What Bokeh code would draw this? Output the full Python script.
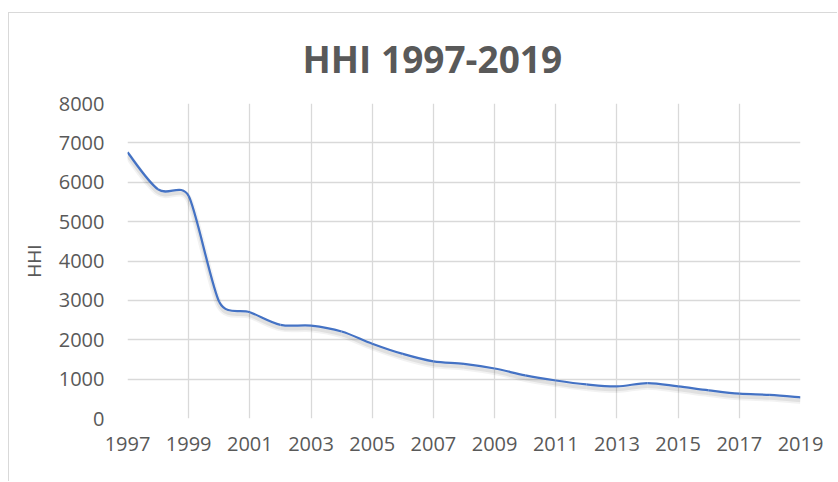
import math
from bokeh.plotting import figure
from bokeh.models import FixedTicker, Range1d
from bokeh.embed import file_html
from bokeh.resources import INLINE

years = list(range(1997, 2020))
hhi = [6760, 5820, 5650, 2960, 2700, 2380, 2360, 2210, 1900, 1640, 1450,
       1390, 1270, 1095, 965, 865, 815, 900, 815, 715, 630, 600, 535]
x_ticks = [1997, 1999, 2001, 2003, 2005, 2007, 2009, 2011, 2013, 2015, 2017, 2019]
y_ticks = [0, 1000, 2000, 3000, 4000, 5000, 6000, 7000, 8000]
title_text = "HHI 1997-2019"
y_label = "HHI"

TXT = "#595959"
GRID = "#d9d9d9"
FONT = "Open Sans"

p = figure(width=829, height=469, output_backend="svg", toolbar_location=None,
           x_range=Range1d(1997, 2019), y_range=Range1d(0, 8000),
           min_border_left=118, min_border_right=38, min_border_top=90,
           min_border_bottom=64, outline_line_color=None)
p.styles = {"border-left": "1px solid #d9d9d9", "border-top": "1px solid #d9d9d9",
            "margin-top": "12px", "margin-left": "8px"}

p.title.text = title_text
p.title.align = "left"
p.title.offset = 175
p.title.text_font = FONT
p.title.text_font_size = "37px"
p.title.text_font_style = "bold"
p.title.text_color = TXT
p.title.standoff = 35
p.title.vertical_align = "top"

p.xaxis.ticker = FixedTicker(ticks=x_ticks)
p.yaxis.ticker = FixedTicker(ticks=y_ticks)
for ax in (p.xaxis, p.yaxis):
    ax.axis_line_color = None
    ax.major_tick_line_color = None
    ax.minor_tick_line_color = None
    ax.major_label_text_font = FONT
    ax.major_label_text_font_size = "20px"
    ax.major_label_text_color = TXT
p.yaxis.major_label_standoff = 17
p.xaxis.major_label_standoff = 12
p.yaxis.axis_label = y_label
p.yaxis.axis_label_text_font = FONT
p.yaxis.axis_label_text_font_size = "19px"
p.yaxis.axis_label_text_font_style = "normal"
p.yaxis.axis_label_text_color = TXT
p.yaxis.axis_label_standoff = 9

p.xgrid.grid_line_color = GRID
p.ygrid.grid_line_color = GRID
p.xgrid.grid_line_width = 1.3
p.ygrid.grid_line_width = 1.3

# Smoothed line: bezier segments with Excel-like clamped control points.
# Distances are measured with the on-screen aspect (px per year / px per unit).
KX, KY = 30.6, 0.0394
n = len(years)

def dist(i, j):
    return math.hypot((years[j] - years[i]) * KX, (hhi[j] - hhi[i]) * KY)

def ctrl(i, side):
    a, b = max(i - 1, 0), min(i + 1, n - 1)
    d02 = dist(a, b)
    if d02 == 0:
        return years[i], hhi[i]
    f = 1 / 6
    lim = min(dist(a, i) if a != i else 1e9, dist(i, b) if b != i else 1e9) / 2
    if d02 * f > lim:
        f = lim / d02
    tx, ty = years[b] - years[a], hhi[b] - hhi[a]
    return years[i] + side * f * tx, hhi[i] + side * f * ty

x0, y0, x1, y1, cx0, cy0, cx1, cy1 = [], [], [], [], [], [], [], []
for i in range(n - 1):
    c0 = ctrl(i, 1)
    c1 = ctrl(i + 1, -1)
    x0.append(years[i]); y0.append(hhi[i])
    x1.append(years[i + 1]); y1.append(hhi[i + 1])
    cx0.append(c0[0]); cy0.append(c0[1])
    cx1.append(c1[0]); cy1.append(c1[1])

p.extra_y_ranges = {"shadow": Range1d(start=80, end=8080)}
p.bezier(x0=x0, y0=y0, x1=x1, y1=y1, cx0=cx0, cy0=cy0, cx1=cx1, cy1=cy1,
         line_color="#000000", line_alpha=0.05, line_width=7, y_range_name="shadow")
p.bezier(x0=x0, y0=y0, x1=x1, y1=y1, cx0=cx0, cy0=cy0, cx1=cx1, cy1=cy1,
         line_color="#000000", line_alpha=0.07, line_width=3.5, y_range_name="shadow")
p.bezier(x0=x0, y0=y0, x1=x1, y1=y1, cx0=cx0, cy0=cy0, cx1=cx1, cy1=cy1,
         line_color="#4472C4", line_width=2.25)

open("out.html", "w").write(file_html(p, INLINE))
